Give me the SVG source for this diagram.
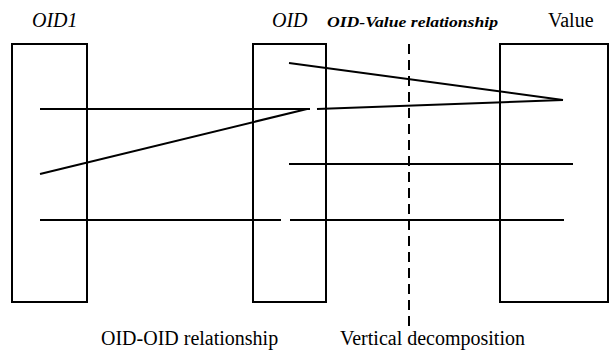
<svg xmlns="http://www.w3.org/2000/svg" width="610" height="352" viewBox="0 0 610 352">
<style>
.box{fill:none;stroke:#000;stroke-width:2}
.ln{stroke:#000;stroke-width:2;fill:none;stroke-linecap:butt}
.dash{stroke:#000;stroke-width:2;stroke-dasharray:10 6}
.lbl{font-family:"Liberation Serif","Times New Roman",serif;font-size:20px;fill:#000}
.it{font-style:italic}
.small{font-family:"Liberation Serif","Times New Roman",serif;font-size:15px;font-style:italic;font-weight:bold;fill:#000}
</style>
<rect width="610" height="352" fill="#fff"/>
<g id="node-oid1">
<rect class="box" x="12" y="44" width="75" height="258"/>
<text class="lbl it" x="32" y="27">OID1</text>
</g>
<g id="node-oid">
<rect class="box" x="253" y="44" width="73" height="258"/>
<text class="lbl it" x="272" y="27">OID</text>
</g>
<g id="node-value">
<rect class="box" x="500" y="44" width="108" height="258"/>
<text class="lbl" x="548" y="27">Value</text>
</g>
<g id="connectors">
<line class="ln" x1="40" y1="109" x2="310" y2="109"/>
<line class="ln" x1="40" y1="174" x2="307" y2="109"/>
<line class="ln" x1="40" y1="220" x2="281" y2="220"/>
<line class="ln" x1="289" y1="63" x2="563" y2="100"/>
<line class="ln" x1="317" y1="109" x2="563" y2="100"/>
<line class="ln" x1="289" y1="164" x2="573" y2="164"/>
<line class="ln" x1="290" y1="220" x2="564" y2="220"/>
<line class="dash" x1="409" y1="44" x2="409" y2="332"/>
</g>
<text class="small" x="327" y="27" textLength="171" lengthAdjust="spacingAndGlyphs">OID-Value relationship</text>
<text class="lbl" x="101" y="345">OID-OID relationship</text>
<text class="lbl" x="340" y="345">Vertical decomposition</text>
</svg>
